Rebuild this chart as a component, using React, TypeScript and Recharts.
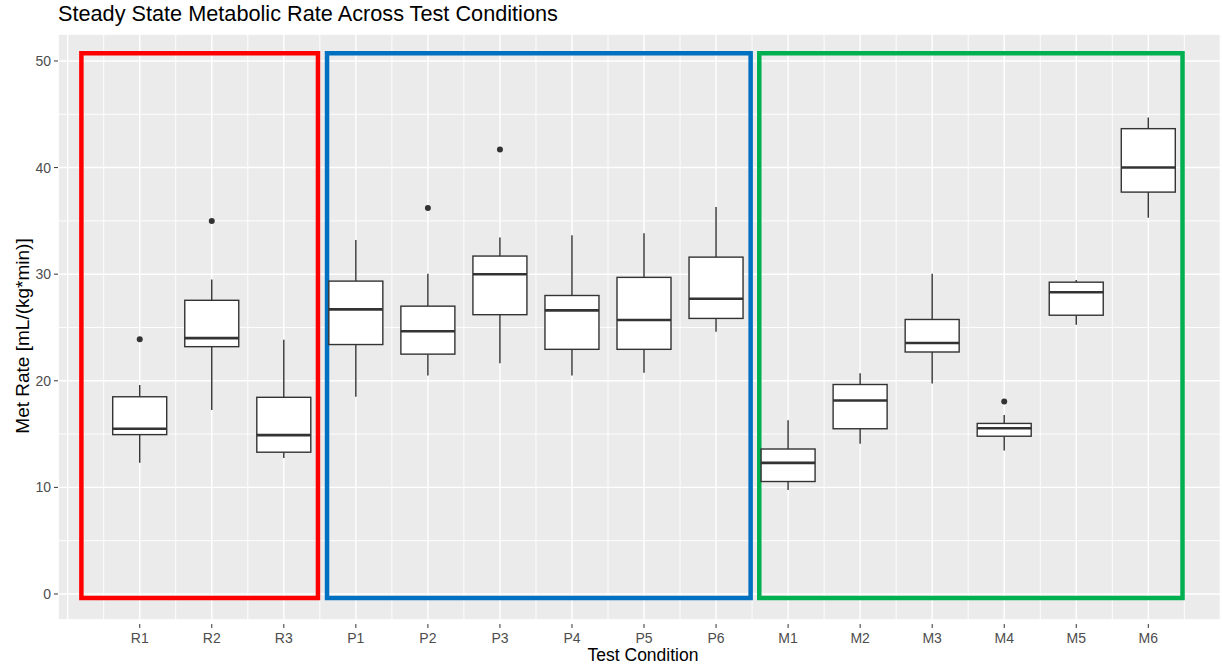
import React from 'react';
import {
  ComposedChart,
  Bar,
  Scatter,
  XAxis,
  YAxis,
  ReferenceArea,
  CartesianGrid,
} from 'recharts';

// ---- data ----
const categories = ['R1', 'R2', 'R3', 'P1', 'P2', 'P3', 'P4', 'P5', 'P6', 'M1', 'M2', 'M3', 'M4', 'M5', 'M6'];
const lowerWhisker = [12.3, 17.25, 12.75, 18.5, 20.5, 21.65, 20.5, 20.75, 24.6, 9.75, 14.1, 19.75, 13.45, 25.25, 35.3];
const lowerHinge = [14.95, 23.2, 13.3, 23.4, 22.5, 26.2, 22.95, 22.95, 25.85, 10.55, 15.5, 22.7, 14.8, 26.15, 37.7];
const medians = [15.5, 24.0, 14.9, 26.7, 24.65, 30.0, 26.6, 25.7, 27.7, 12.3, 18.15, 23.55, 15.55, 28.3, 40.0];
const upperHinge = [18.5, 27.55, 18.45, 29.35, 27.0, 31.7, 28.0, 29.7, 31.6, 13.6, 19.65, 25.75, 16.0, 29.25, 43.65];
const upperWhisker = [19.6, 29.5, 23.85, 33.2, 30.05, 33.45, 33.65, 33.85, 36.3, 16.3, 20.7, 30.05, 16.8, 29.45, 44.7];

const outlierCategories = ['R1', 'R2', 'P2', 'P3', 'M4'];
const outlierValues = [23.9, 35.0, 36.2, 41.7, 18.05];

const yTicks = [0, 10, 20, 30, 40, 50];
const yMinorTicks = [5, 15, 25, 35, 45];

// group annotation frames (data units)
const groupColors = ['#FF0000', '#0070C0', '#00B050'];
const groupLeft = [0.19, 3.6, 9.6];
const groupRight = [3.474, 9.48, 15.475];
const groupBottom = [-0.37, -0.37, -0.37];
const groupTop = [50.72, 50.72, 50.72];

// ---- derived tables ----
const boxData = categories.map((c, i) => ({
  x: i + 1,
  name: c,
  range: [lowerWhisker[i], upperWhisker[i]],
  lo: lowerWhisker[i],
  q1: lowerHinge[i],
  med: medians[i],
  q3: upperHinge[i],
  hi: upperWhisker[i],
}));
const outlierData = outlierCategories.map((c, i) => ({
  x: categories.indexOf(c) + 1,
  value: outlierValues[i],
}));
const xMajorGrid = Array.from({ length: categories.length + 2 }, (_, i) => i);
const xMinorGrid = Array.from({ length: categories.length + 1 }, (_, i) => i + 0.5);

const X_DOMAIN: [number, number] = [-0.1346, 16.023];
const Y_DOMAIN: [number, number] = [-2.44, 52.53];
const STROKE = '#333333';

const BoxShape = (props: any) => {
  const { x, y, width, height, payload } = props;
  if (!payload) return null;
  let top = y;
  let h = height;
  if (h < 0) {
    top = y + h;
    h = -h;
  }
  const k = h / (payload.hi - payload.lo);
  const py = (v: number) => top + (payload.hi - v) * k;
  const cx = x + width / 2;
  return (
    <g>
      <line x1={cx} x2={cx} y1={py(payload.hi)} y2={py(payload.q3)} stroke={STROKE} strokeWidth={1.4} />
      <line x1={cx} x2={cx} y1={py(payload.q1)} y2={py(payload.lo)} stroke={STROKE} strokeWidth={1.4} />
      <rect
        x={x}
        y={py(payload.q3)}
        width={width}
        height={py(payload.q1) - py(payload.q3)}
        fill="#FFFFFF"
        stroke={STROKE}
        strokeWidth={1.4}
      />
      <line x1={x} x2={x + width} y1={py(payload.med)} y2={py(payload.med)} stroke={STROKE} strokeWidth={2.6} />
    </g>
  );
};

const OutlierShape = (props: any) => {
  const { cx, cy } = props;
  return <circle cx={cx} cy={cy} r={3} fill={STROKE} />;
};

const XTick = (props: any) => {
  const { x, y, payload } = props;
  const label = categories[payload.value - 1];
  if (!label) return null;
  return (
    <g>
      <line x1={x} x2={x} y1={y - 4} y2={y} stroke={STROKE} strokeWidth={1} />
      <text x={x} y={y + 14.5} textAnchor="middle" fill="#4D4D4D" fontSize={14}>
        {label}
      </text>
    </g>
  );
};

const EmptyTick = () => <g />;

export default function App() {
  return (
    <div
      style={{
        position: 'absolute',
        left: 0,
        top: 0,
        width: 1222,
        height: 665,
        background: '#FFFFFF',
        fontFamily: '"Liberation Sans", Arial, sans-serif',
      }}
    >
      <div
        style={{
          position: 'absolute',
          left: 58,
          top: 1,
          fontSize: 21.7,
          color: '#000000',
          whiteSpace: 'nowrap',
        }}
      >
        Steady State Metabolic Rate Across Test Conditions
      </div>
      <ComposedChart
        width={1222}
        height={665}
        margin={{ top: 34, right: 0, bottom: 0, left: 0 }}
        data={boxData}
      >
        <CartesianGrid fill="#EBEBEB" stroke="none" horizontal={false} vertical={false} />
        <CartesianGrid stroke="#FFFFFF" strokeWidth={0.9} xAxisId="minor" yAxisId="minor" />
        <CartesianGrid stroke="#FFFFFF" strokeWidth={1.4} />
        <XAxis
          dataKey="x"
          type="number"
          domain={X_DOMAIN}
          allowDataOverflow
          ticks={xMajorGrid}
          interval={0}
          height={45}
          axisLine={false}
          tickLine={false}
          tick={<XTick />}
          label={{
            content: (p: any) => {
              const vb = p.viewBox;
              return (
                <text x={vb.x + vb.width / 2 + 3} y={vb.y + 41} textAnchor="middle" fontSize={17.5} fill="#000000">
                  Test Condition
                </text>
              );
            },
          }}
        />
        <XAxis
          xAxisId="minor"
          orientation="top"
          dataKey="x"
          type="number"
          domain={X_DOMAIN}
          allowDataOverflow
          ticks={xMinorGrid}
          interval={0}
          height={0}
          axisLine={false}
          tickLine={false}
          tick={<EmptyTick />}
        />
        <YAxis
          type="number"
          domain={Y_DOMAIN}
          allowDataOverflow
          ticks={yTicks}
          interval={0}
          width={58}
          axisLine={false}
          tickSize={4}
          tickMargin={3}
          tickLine={{ stroke: STROKE }}
          tick={{ fill: '#4D4D4D', fontSize: 14 }}
          label={{
            content: (p: any) => {
              const vb = p.viewBox;
              const cx = 22;
              const cy = vb.y + vb.height / 2 + 9;
              return (
                <text
                  x={cx}
                  y={cy}
                  textAnchor="middle"
                  dominantBaseline="central"
                  fontSize={19}
                  fill="#000000"
                  transform={`rotate(-90 ${cx} ${cy})`}
                >
                  Met Rate [mL/(kg*min)]
                </text>
              );
            },
          }}
        />
        <YAxis
          yAxisId="minor"
          orientation="right"
          type="number"
          domain={Y_DOMAIN}
          allowDataOverflow
          ticks={yMinorTicks}
          interval={0}
          width={0}
          axisLine={false}
          tickLine={false}
          tick={<EmptyTick />}
        />
        <Bar dataKey="range" barSize={54} shape={<BoxShape />} isAnimationActive={false} />
        <Scatter data={outlierData} dataKey="value" shape={<OutlierShape />} isAnimationActive={false} />
        {groupColors.map((c, i) => (
          <ReferenceArea
            key={'g' + i}
            x1={groupLeft[i]}
            x2={groupRight[i]}
            y1={groupBottom[i]}
            y2={groupTop[i]}
            fill="none"
            fillOpacity={0}
            stroke={c}
            strokeWidth={4.5}
          />
        ))}
      </ComposedChart>
    </div>
  );
}
